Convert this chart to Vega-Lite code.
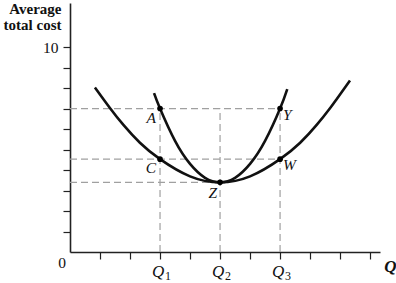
{
  "$schema": "https://vega.github.io/schema/vega-lite/v6.json",
  "autosize": "none",
  "width": 310,
  "height": 249,
  "padding": {"left": 70, "top": 3, "right": 16, "bottom": 31},
  "background": "white",
  "config": {"view": {"stroke": null}, "font": "Liberation Serif"},
  "datasets": {
    "curves": [
      {"curve": "wide", "q": 0.83, "c": 8.03},
      {"curve": "wide", "q": 1.33, "c": 7.03},
      {"curve": "wide", "q": 1.78, "c": 6.2},
      {"curve": "wide", "q": 2.33, "c": 5.33},
      {"curve": "wide", "q": 3, "c": 4.53},
      {"curve": "wide", "q": 4, "c": 3.69},
      {"curve": "wide", "q": 5, "c": 3.4},
      {"curve": "wide", "q": 6, "c": 3.69},
      {"curve": "wide", "q": 7, "c": 4.53},
      {"curve": "wide", "q": 7.67, "c": 5.33},
      {"curve": "wide", "q": 8.22, "c": 6.2},
      {"curve": "wide", "q": 8.67, "c": 7.03},
      {"curve": "wide", "q": 8.89, "c": 7.47},
      {"curve": "wide", "q": 9.33, "c": 8.37},
      {"curve": "narrow", "q": 2.8, "c": 7.75},
      {"curve": "narrow", "q": 3, "c": 7.0},
      {"curve": "narrow", "q": 3.5, "c": 5.42},
      {"curve": "narrow", "q": 4, "c": 4.3},
      {"curve": "narrow", "q": 4.5, "c": 3.62},
      {"curve": "narrow", "q": 5, "c": 3.4},
      {"curve": "narrow", "q": 5.5, "c": 3.62},
      {"curve": "narrow", "q": 6, "c": 4.3},
      {"curve": "narrow", "q": 6.5, "c": 5.42},
      {"curve": "narrow", "q": 7, "c": 7.0},
      {"curve": "narrow", "q": 7.24, "c": 7.95}
    ],
    "guides": [
      {"q": 0, "q2": 7, "c": 7, "c2": 7},
      {"q": 0, "q2": 7, "c": 4.53, "c2": 4.53},
      {"q": 0, "q2": 5, "c": 3.4, "c2": 3.4},
      {"q": 3, "q2": 3, "c": 0, "c2": 7},
      {"q": 5, "q2": 5, "c": 0, "c2": 7},
      {"q": 7, "q2": 7, "c": 0, "c2": 7}
    ],
    "points": [
      {"name": "A", "q": 3, "c": 7, "side": "left"},
      {"name": "C", "q": 3, "c": 4.53, "side": "left"},
      {"name": "Y", "q": 7, "c": 7, "side": "right"},
      {"name": "W", "q": 7, "c": 4.53, "side": "right"},
      {"name": "Z", "q": 5, "c": 3.4, "side": "bottom"}
    ],
    "qlabels": [
      {"q": 3, "c": 0, "main": "Q", "sub": "1"},
      {"q": 5, "c": 0, "main": "Q", "sub": "2"},
      {"q": 7, "c": 0, "main": "Q", "sub": "3"}
    ],
    "origin": [{"q": 0, "c": 0, "label": "0"}]
  },
  "encoding": {
    "x": {"field": "q", "type": "quantitative", "scale": {"domain": [0, 10.33], "nice": false, "zero": false},
      "axis": {
        "values": [1, 2, 3, 4, 5, 6, 7, 8, 9, 10],
        "labels": false,
        "tickSize": 7, "tickColor": "#222", "tickWidth": 1.2,
        "domainColor": "#222", "domainWidth": 1.6,
        "grid": false,
        "title": "Q", "titleFont": "Liberation Serif", "titleFontStyle": "italic", "titleFontWeight": "bold",
        "titleFontSize": 17, "titleColor": "#111",
        "titleX": 320, "titleY": 19, "titleAlign": "center", "titleBaseline": "alphabetic"
      }},
    "y": {"field": "c", "type": "quantitative", "scale": {"domain": [0, 12.15], "nice": false, "zero": false},
      "axis": {
        "values": [1, 2, 3, 4, 5, 6, 7, 8, 9, 10],
        "labelExpr": "datum.value > 9.5 ? '10' : ''",
        "labelOverlap": false, "labelBound": false, "labelFlush": false,
        "labelFont": "Liberation Serif", "labelFontSize": 15.5, "labelColor": "#111",
        "labelPadding": 5,
        "tickSize": 7, "tickColor": "#222", "tickWidth": 1.2,
        "domainColor": "#222", "domainWidth": 1.6,
        "grid": false,
        "title": ["Average", "total cost"], "titleFont": "Liberation Serif", "titleFontWeight": "bold",
        "titleFontSize": 15, "titleColor": "#111", "titleAngle": 0,
        "titleAlign": "right", "titleBaseline": "alphabetic", "titleLineHeight": 16.5,
        "titleX": -9, "titleY": 10
      }}
  },
  "layer": [
    {
      "data": {"name": "guides"},
      "mark": {"type": "rule", "color": "#a0a0a0", "strokeWidth": 1.2, "strokeDash": [7, 4]},
      "encoding": {
        "x2": {"field": "q2"},
        "y2": {"field": "c2"}
      }
    },
    {
      "data": {"name": "curves"},
      "mark": {"type": "line", "color": "#111", "strokeWidth": 2.6, "interpolate": "natural"},
      "encoding": {
        "detail": {"field": "curve"}
      }
    },
    {
      "data": {"name": "points"},
      "mark": {"type": "point", "filled": true, "color": "#000", "size": 32, "opacity": 1}
    },
    {
      "data": {"name": "points"},
      "transform": [{"filter": "datum.side == 'left'"}],
      "mark": {"type": "text", "font": "Liberation Serif", "fontStyle": "italic", "fontSize": 15.5, "color": "#111", "align": "right", "baseline": "middle", "dx": -4, "dy": 9},
      "encoding": {"text": {"field": "name"}}
    },
    {
      "data": {"name": "points"},
      "transform": [{"filter": "datum.side == 'right'"}],
      "mark": {"type": "text", "font": "Liberation Serif", "fontStyle": "italic", "fontSize": 15.5, "color": "#111", "align": "left", "baseline": "middle", "dx": 3, "dy": 6},
      "encoding": {"text": {"field": "name"}}
    },
    {
      "data": {"name": "points"},
      "transform": [{"filter": "datum.side == 'bottom'"}],
      "mark": {"type": "text", "font": "Liberation Serif", "fontStyle": "italic", "fontSize": 15.5, "color": "#111", "align": "right", "baseline": "middle", "dx": -3, "dy": 11},
      "encoding": {"text": {"field": "name"}}
    },
    {
      "data": {"name": "qlabels"},
      "mark": {"type": "text", "font": "Liberation Serif", "fontStyle": "italic", "fontSize": 17, "color": "#111", "align": "center", "baseline": "alphabetic", "dx": -2, "dy": 25},
      "encoding": {"text": {"field": "main"}}
    },
    {
      "data": {"name": "qlabels"},
      "mark": {"type": "text", "font": "Liberation Serif", "fontSize": 12, "color": "#111", "align": "left", "baseline": "alphabetic", "dx": 5, "dy": 28},
      "encoding": {"text": {"field": "sub"}}
    },
    {
      "data": {"name": "origin"},
      "mark": {"type": "text", "font": "Liberation Serif", "fontSize": 15.5, "color": "#111", "align": "right", "baseline": "middle", "dx": -4, "dy": 11},
      "encoding": {"text": {"field": "label"}}
    }
  ]
}
